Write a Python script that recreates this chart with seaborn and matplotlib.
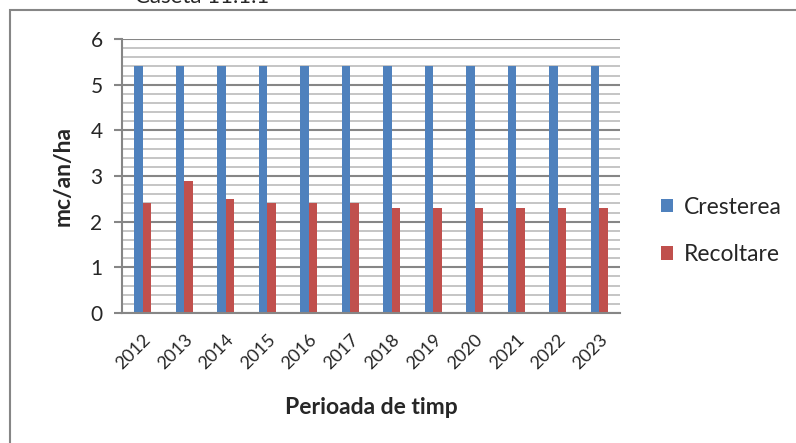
import seaborn as sns
import pandas as pd
import matplotlib.pyplot as plt
from matplotlib.ticker import MultipleLocator
from matplotlib.patches import Rectangle

sns.set_style('white')
plt.rcParams['font.family'] = ['Lato', 'DejaVu Sans']

years = ['2012', '2013', '2014', '2015', '2016', '2017',
         '2018', '2019', '2020', '2021', '2022', '2023']
cresterea = [5.4, 5.4, 5.4, 5.4, 5.4, 5.4, 5.4, 5.4, 5.4, 5.4, 5.4, 5.4]
recoltare = [2.4, 2.9, 2.5, 2.4, 2.4, 2.4, 2.3, 2.3, 2.3, 2.3, 2.3, 2.3]
series = ['Cresterea', 'Recoltare']

df = pd.DataFrame({'An': years * 2,
                   'Valoare': cresterea + recoltare,
                   'Serie': [series[0]] * len(years) + [series[1]] * len(years)})

fig = plt.figure(figsize=(7.96, 4.43), dpi=100)
ax = fig.add_axes([122/796, 1-313/443, (620-122)/796, (313-39)/443])

g = sns.barplot(data=df, x='An', y='Valoare', hue='Serie', ax=ax,
                palette=['#4F81BD', '#C0504D'], width=0.4, saturation=1,
                edgecolor='none')

ax.set_ylim(0, 6)
ax.set_xlim(-0.5, len(years) - 0.5)
ax.yaxis.set_major_locator(MultipleLocator(1))
ax.yaxis.set_minor_locator(MultipleLocator(0.2))
ax.set_axisbelow(True)
ax.grid(axis='y', which='minor', color='#c0c0c0', lw=1.3)
ax.grid(axis='y', which='major', color='#868686', lw=1.5)
ax.grid(axis='x', visible=False)

for s in ['top', 'right']:
    ax.spines[s].set_visible(False)
ax.spines['left'].set_color('#868686')
ax.spines['left'].set_linewidth(1.5)
ax.spines['bottom'].set_color('#868686')
ax.spines['bottom'].set_linewidth(1.5)

ax.tick_params(axis='y', which='major', length=6, width=1.5, color='#868686',
               labelsize=15, pad=8, left=True)
ax.tick_params(axis='y', which='minor', length=0)
ax.tick_params(axis='x', length=0, labelsize=13, pad=13)
plt.setp(ax.get_xticklabels(), rotation=45, ha='right', rotation_mode='anchor')

ax.set_xlabel('Perioada de timp', fontsize=16.5, fontweight='bold', labelpad=18)
ax.set_ylabel('mc/an/ha', fontsize=16.5, fontweight='bold', labelpad=12)

ax.legend(loc='center left', bbox_to_anchor=(1.04, 0.30), frameon=False,
          fontsize=16.5, handlelength=0.55, handleheight=0.55, handletextpad=0.45,
          labelspacing=1.15, title=None)

fig.add_artist(Rectangle((10/796, -0.1), 1.1, 1 - 10/443 + 0.1,
                         transform=fig.transFigure, fill=False,
                         ec='#868686', lw=1.5))
fig.text(135/796, 1 - 3/443, 'Caseta 11.1.1', fontsize=16, va='baseline')

fig.savefig('out.png', dpi=100)
